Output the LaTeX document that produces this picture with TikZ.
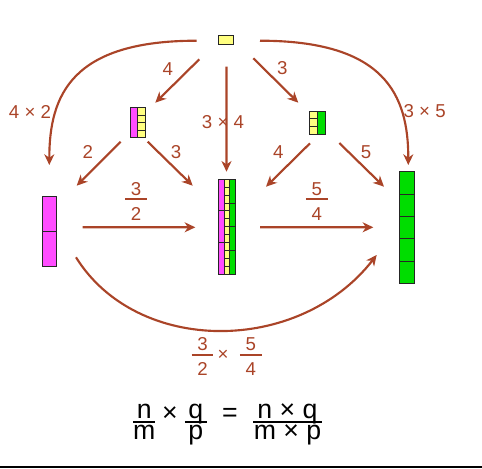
\documentclass[tikz,border=0pt]{standalone}
\usepackage{fontspec}
\setmainfont{Liberation Sans}
\usepackage{tikz}
\usetikzlibrary{arrows.meta,calc}
\definecolor{rust}{RGB}{170,68,40}
\definecolor{pnk}{RGB}{255,77,255}
\definecolor{yel}{RGB}{255,255,128}
\definecolor{grn}{RGB}{0,221,0}

% one column of a block: node, x offset, width, height, cells, colour
\newcommand{\strip}[6]{%
  \foreach \k in {1,...,#5}
    \draw[cell, fill=#6] ($(#1.north west)+(#2,{(\k-1)*#4/#5})$) rectangle +(#3,{#4/#5});
}
% fractions for the labels and for the formula
\newcommand{\lfr}[2]{\begin{tabular}{@{}c@{}}#1\\[-13.05pt]\rule{16.3pt}{1.5pt}\\[-2.25pt]#2\end{tabular}}
\newcommand{\bfr}[3]{\begin{tabular}{@{}c@{}}#2\\[-20.65pt]\rule{#1}{1.5pt}\\[-11.05pt]#3\end{tabular}}

\begin{document}
\begin{tikzpicture}[
    x=0.75pt, y=-0.75pt,
    blk/.style={inner sep=0pt, outer sep=0pt},
    cell/.style={draw=black!85, line width=0.6pt},
    arr/.style={draw=rust, line width=1.6pt, -{Stealth[length=8pt,width=7.5pt,inset=2.5pt]}},
    lbl/.style={text=rust, font=\fontsize{14}{17}\selectfont, inner sep=1pt},
    eq/.style={font=\fontsize{20}{24}\selectfont, inner sep=1pt}
  ]
  \useasboundingbox (0,0) rectangle (482,468);

  % blocks
  \node[blk, minimum width=11.25pt, minimum height=6.75pt] (one) at (225.8,39.5) {};
  \node[blk, minimum width=11.78pt, minimum height=22.8pt] (half) at (137.85,122.5) {};
  \node[blk, minimum width=11.78pt, minimum height=17.25pt] (third) at (317.15,122.5) {};
  \node[blk, minimum width=13.05pt, minimum height=71pt] (mid) at (227,226.65) {};
  \node[blk, minimum width=10.8pt, minimum height=52.5pt] (lft) at (49.5,231.7) {};
  \node[blk, minimum width=11.25pt, minimum height=83.7pt] (rgt) at (406.8,227.5) {};

  \strip{one}{0}{15}{9}{1}{yel}
  \strip{half}{0}{7.7}{30.4}{1}{pnk}
  \strip{half}{7.7}{8}{30.4}{4}{yel}
  \strip{third}{0}{8}{23}{3}{yel}
  \strip{third}{8}{7.7}{23}{1}{grn}
  \strip{mid}{0}{5.7}{94.7}{3}{pnk}
  \strip{mid}{5.7}{5}{94.7}{12}{yel}
  \strip{mid}{10.7}{6.7}{94.7}{4}{grn}
  \strip{lft}{0}{14.4}{70}{2}{pnk}
  \strip{rgt}{0}{15}{111.6}{5}{grn}

  % arrows
  \draw[arr] ($(one)+(-26.5,19.8)$) -- ($(half)+(17.45,-19.8)$);
  \draw[arr] ($(one)+(27.5,18.8)$) -- ($(third)+(-18.85,-19.8)$);
  \draw[arr] ($(one)+(0.7,27.2)$) -- ($(mid)+(-0.5,-54.95)$);
  \draw[arr] ($(one)+(-29.1,1.2)$) .. controls +(-125,0) and +(0,-70) .. ($(lft)+(-0.2,-66.7)$);
  \draw[arr] ($(one)+(34.2,1.2)$) .. controls +(125,0) and +(0,-70) .. ($(rgt)+(1.5,-62.5)$);
  \draw[arr] ($(half)+(-17.15,19.2)$) -- ($(lft)+(27.2,-46)$);
  \draw[arr] ($(half)+(9.85,19.2)$) -- ($(mid)+(-34.3,-40.95)$);
  \draw[arr] ($(third)+(-7.15,20.8)$) -- ($(mid)+(39,-39.95)$);
  \draw[arr] ($(third)+(22.15,20.5)$) -- ($(rgt)+(-22.8,-40.8)$);
  \draw[arr] ($(lft)+(33.2,-4.4)$) -- ($(mid)+(-31.7,0.65)$);
  \draw[arr] ($(mid)+(33,0.65)$) -- ($(rgt)+(-33.5,-0.2)$);
  \draw[arr] ($(lft)+(26.5,25.6)$) .. controls +(61,98) and +(-78,100) .. ($(rgt)+(-30.1,27.5)$);

  % labels
  \node[lbl] (l4) at (167.7,69.3) {4};
  \node[lbl] (l3) at (282.3,68.3) {3};
  \node[lbl] (l42) at (30,112) {4 × 2};
  \node[lbl] (l34) at (223,122) {3 × 4};
  \node[lbl] (l35) at (424.7,111) {3 × 5};
  \node[lbl] (l2) at (87.7,151.7) {2};
  \node[lbl] (l3b) at (176,151.7) {3};
  \node[lbl] (l4b) at (278.3,151.7) {4};
  \node[lbl] (l5) at (366,151.7) {5};
  \node[lbl] (f32) at (136,203) {\lfr{3}{2}};
  \node[lbl] (f54) at (316.7,203) {\lfr{5}{4}};
  \node[lbl] (b32) at (202.5,358.7) {\lfr{3}{2}};
  \node[lbl] (bx) at (223,355) {×};
  \node[lbl] (b54) at (250.8,358.7) {\lfr{5}{4}};

  % formula
  \node[eq] (nm) at (144.2,422.7) {\bfr{16.3pt}{n}{m}};
  \node[eq] (t1) at (170,414.5) {×};
  \node[eq] (qp) at (195.8,422.7) {\bfr{16.3pt}{q}{p}};
  \node[eq] (eqs) at (230,415) {=};
  \node[eq] (nq) at (287.5,422.7) {\bfr{51.2pt}{n × q}{m × p}};

  \draw[line width=1.5pt] (0,467.3) -- (482,467.3);
\end{tikzpicture}
\end{document}
